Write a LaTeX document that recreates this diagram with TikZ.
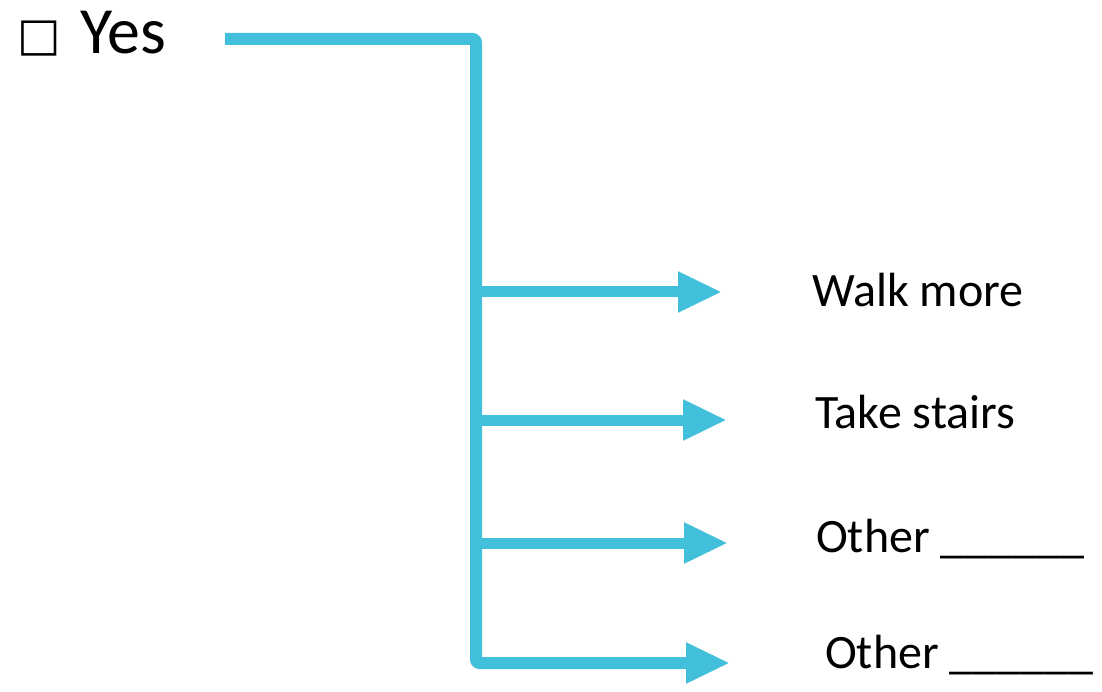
\documentclass[tikz,border=0pt]{standalone}
\usepackage{fontspec}
\setmainfont{Carlito}
\newfontfamily\symfont{DejaVu Sans}
\usetikzlibrary{arrows.meta}
\definecolor{flow}{RGB}{66,191,219}
\begin{document}
\begin{tikzpicture}[x=1pt,y=-1pt,
  label/.style={anchor=base west,inner sep=0pt,font=\fontsize{48}{56}\selectfont},
  flowline/.style={draw=flow,line width=12pt,line join=round,rounded corners=3pt,-{Triangle[length=44pt,width=38pt]}},
  flowarrow/.style={draw=flow,line width=11pt,-{Triangle[length=44pt,width=38pt]}}]
\useasboundingbox (0,0) rectangle (1102,692);
% texts
\node[anchor=base west,inner sep=0pt,font=\symfont\fontsize{46}{56}\selectfont] (box) at (17,51) {□};
\node[anchor=base west,inner sep=0pt,font=\fontsize{66}{76}\selectfont] (yes) at (80,54) {Yes};
\node[label] (walk) at (812,306) {Walk more};
\node[label] (stairs) at (815,428) {Take stairs};
\node[label] (other1) at (816,552) {Other \_\_\_\_\_\_};
\node[label] (other2) at (825,668) {Other \_\_\_\_\_\_};
% connector coordinates
\coordinate (start) at (225,39);
\coordinate (b1) at (476,292);
\coordinate (b2) at (476,420);
\coordinate (b3) at (476,543);
\coordinate (b4) at (476,663);
\coordinate (t1) at (722,292);
\coordinate (t2) at (727,420);
\coordinate (t3) at (728,543);
\coordinate (t4) at (730,663);
% trunk and branches
\draw[flowline] (start) -| (b4) -- (t4);
\draw[flowarrow] (b1) -- (t1);
\draw[flowarrow] (b2) -- (t2);
\draw[flowarrow] (b3) -- (t3);
\end{tikzpicture}
\end{document}
